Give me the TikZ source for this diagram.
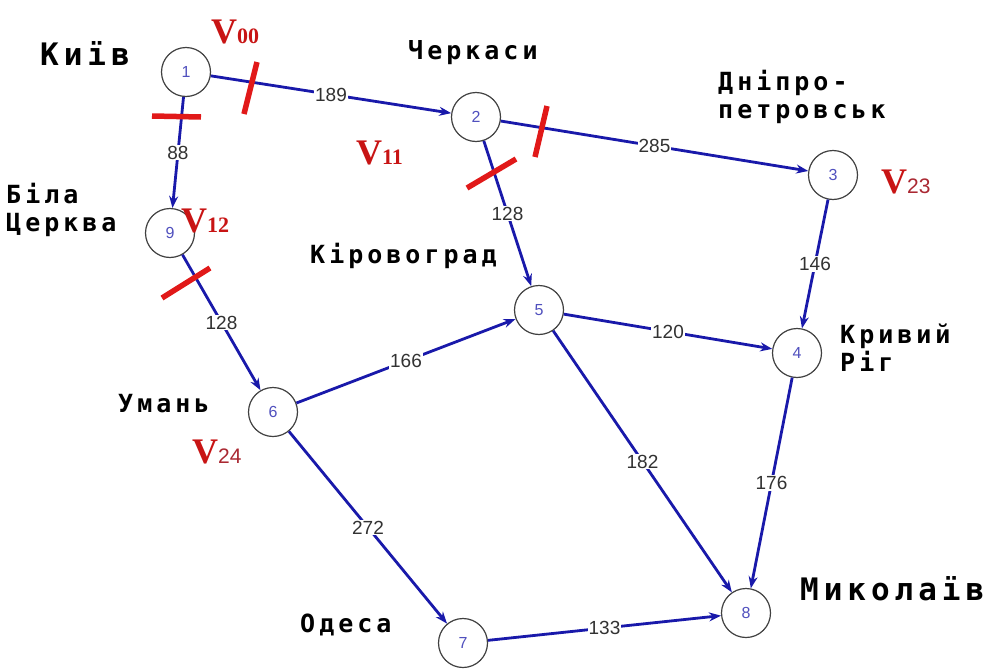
\documentclass[tikz,border=0pt]{standalone}
\usepackage{fontspec}
\setmainfont{Liberation Sans}
\newfontfamily\cityfont[LetterSpace=16]{DejaVu Sans Mono}
\newfontfamily\vserif{Liberation Serif}
\usetikzlibrary{arrows.meta}
\definecolor{edgeblue}{RGB}{25,25,170}
\definecolor{cutred}{RGB}{225,25,25}
\definecolor{vred}{RGB}{200,20,20}
\definecolor{subred}{RGB}{170,40,50}
\definecolor{numblue}{RGB}{80,80,190}
\definecolor{lblgray}{RGB}{50,50,50}
\begin{document}
\begin{tikzpicture}[x=1pt,y=-1pt,
  vertex/.style={circle,draw=black!75,line width=1.2pt,minimum size=49pt,inner sep=0pt,fill=white,font=\fontsize{16}{16}\selectfont,text=numblue},
  road/.style={draw=edgeblue,line width=2.8pt,-{Stealth[length=12pt,width=9pt]}},
  dist/.style={fill=white,inner sep=1pt,font=\fontsize{19}{19}\selectfont,text=lblgray},
  city/.style={font=\fontsize{25}{28}\cityfont\bfseries,text=black,inner sep=0pt,align=left},
  bigcity/.style={font=\fontsize{31}{34}\cityfont\bfseries,text=black,inner sep=0pt},
  cut/.style={draw=cutred,line width=5.5pt},
  vlab/.style={inner sep=0pt,text=vred,anchor=base west}
]
\useasboundingbox (0,0) rectangle (997,672);
\fill[white] (0,0) rectangle (997,672);

% vertices
\node[vertex] (n1) at (186,72) {1};
\node[vertex] (n2) at (476,117) {2};
\node[vertex] (n3) at (833,175) {3};
\node[vertex] (n9) at (170,233) {9};
\node[vertex] (n5) at (539,310) {5};
\node[vertex] (n4) at (797,353) {4};
\node[vertex] (n6) at (273,412) {6};
\node[vertex] (n8) at (746,613) {8};
\node[vertex] (n7) at (463,643) {7};

% roads
\draw[road] (n1) -- node[dist] {189} (n2);
\draw[road] (n1) -- node[dist] {88} (n9);
\draw[road] (n2) -- node[dist] {285} (n3);
\draw[road] (n2) -- node[dist] {128} (n5);
\draw[road] (n3) -- node[dist] {146} (n4);
\draw[road] (n9) -- node[dist] {128} (n6);
\draw[road] (n6) -- node[dist] {166} (n5);
\draw[road] (n5) -- node[dist] {120} (n4);
\draw[road] (n5) -- node[dist] {182} (n8);
\draw[road] (n4) -- node[dist] {176} (n8);
\draw[road] (n6) -- node[dist] {272} (n7);
\draw[road] (n7) -- node[dist] {133} (n8);

% cuts
\draw[cut] (257,62) -- (244,114);
\draw[cut] (152,116) -- (201,117);
\draw[cut] (162,298) -- (210,268);
\draw[cut] (547,106) -- (535,157);
\draw[cut] (467,188) -- (516,159);

% city names
\node[bigcity,anchor=base west] (kyiv) at (40,65) {Київ};
\node[city,anchor=base west] (cherk) at (408,59) {Черкаси};
\node[city,anchor=north west] (dnipro) at (718,70) {Дніпро-\\петровськ};
\node[city,anchor=north west] (bila) at (6,183) {Біла\\Церква};
\node[city,anchor=base west] (kirov) at (310,263) {Кіровоград};
\node[city,anchor=north west] (kryvyi) at (840,324) {Кривий\\Ріг};
\node[city,anchor=base west] (uman) at (118,412) {Умань};
\node[city,anchor=base west] (odesa) at (300,632) {Одеса};
\node[bigcity,anchor=base west] (mykol) at (800,600) {Миколаїв};

% V labels
\node[vlab] (v00) at (211,43) {{\fontsize{36}{36}\vserif\bfseries V}{\fontsize{22}{22}\vserif\bfseries 00}};
\node[vlab] (v11) at (356,164) {{\fontsize{36}{36}\vserif\bfseries V}{\fontsize{22}{22}\vserif\bfseries 11}};
\node[vlab] (v12) at (181,232) {{\fontsize{36}{36}\vserif\bfseries V}{\fontsize{22}{22}\vserif\bfseries 12}};
\node[vlab] (v23) at (881,193) {{\fontsize{36}{36}\vserif\bfseries V}{\color{subred}\fontsize{21}{21}\selectfont 23}};
\node[vlab] (v24) at (192,463) {{\fontsize{36}{36}\vserif\bfseries V}{\color{subred}\fontsize{21}{21}\selectfont 24}};
\end{tikzpicture}
\end{document}
